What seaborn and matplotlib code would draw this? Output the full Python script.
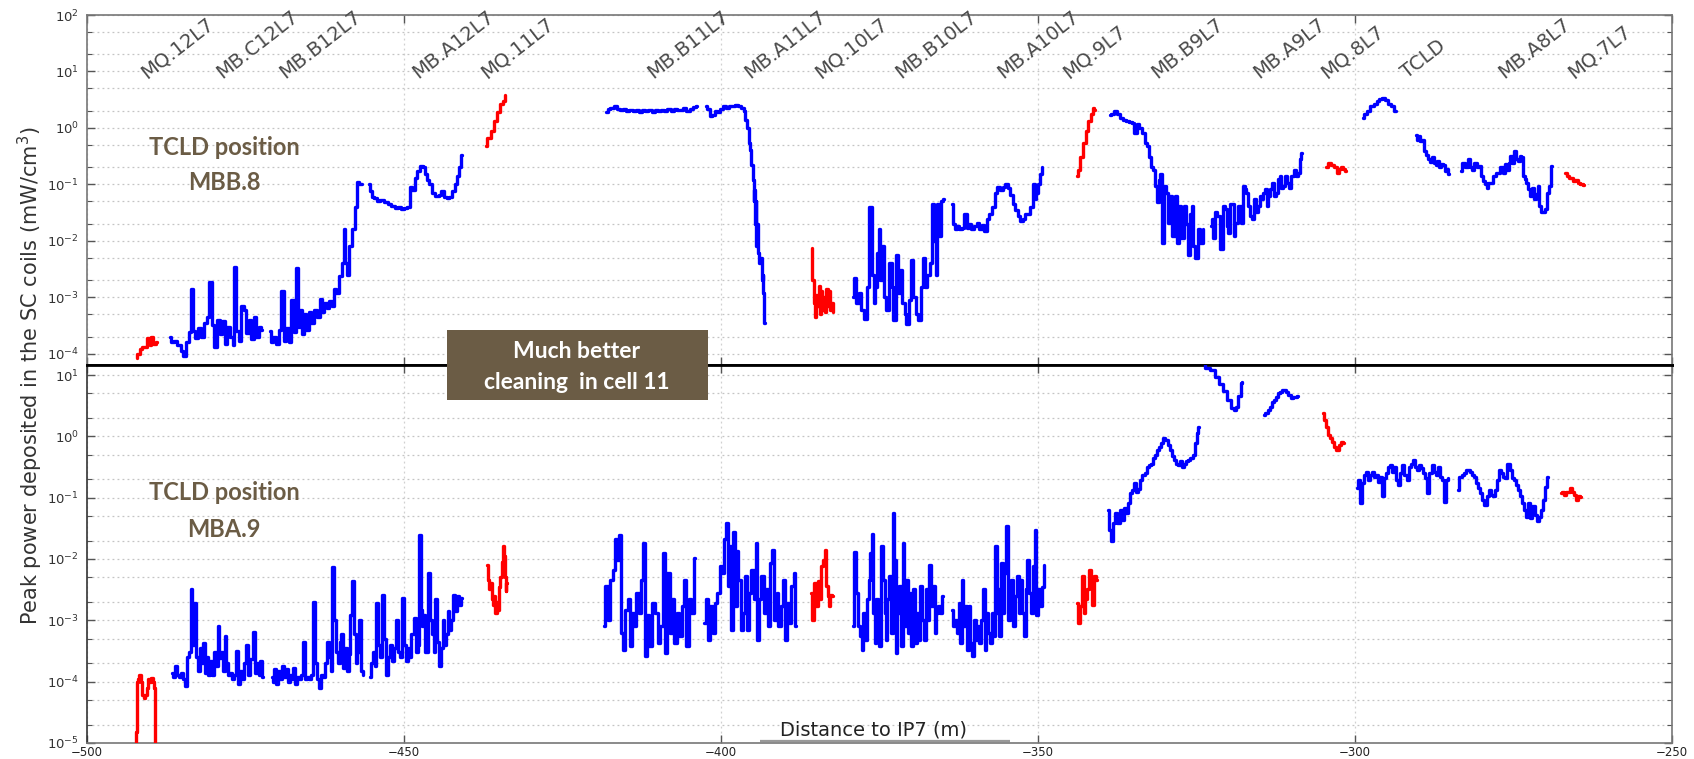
import matplotlib
matplotlib.use("Agg")
import matplotlib.pyplot as plt
from matplotlib.patches import Rectangle
from matplotlib.ticker import LogLocator, NullFormatter, MultipleLocator
import seaborn as sns

BLUE = "#0000ff"
RED = "#ff0000"
BROWN = "#6b5c45"

# ---------------- top panel: TCLD at MBB.8 ----------------
top_r1_x = [-492.2, -491.9, -491.5, -491.1, -490.7, -490.3, -490.0, -489.7, -489.4, -489.0]
top_r1_y = [8.5e-5, 1.0e-4, 1.2e-4, 1.3e-4, 1.3e-4, 1.9e-4, 1.4e-4, 2.0e-4, 1.5e-4, 1.6e-4]

top_b1_x = [-486.9, -486.5, -486.0, -485.5, -485.0, -484.6, -484.2, -483.8, -483.4, -483.1,
            -482.7, -482.3, -481.8, -481.3, -480.9, -480.5, -480.1, -479.7, -479.3, -478.9,
            -478.5, -478.1, -477.7, -477.2, -476.9, -476.6, -476.3, -475.9, -475.5, -475.1,
            -474.7, -474.3, -473.9, -473.5, -473.1, -472.7, -472.4]
top_b1_y = [2.0e-4, 1.6e-4, 1.7e-4, 1.4e-4, 1.1e-4, 9e-5, 1.6e-4, 2.4e-4, 1.4e-3, 2.5e-4,
            1.9e-4, 2.8e-4, 2.0e-4, 3.5e-4, 4.5e-4, 1.9e-3, 3.2e-4, 1.3e-4, 4.0e-4, 2.2e-4,
            3.8e-4, 1.5e-4, 3.0e-4, 2.0e-4, 1.4e-4, 3.4e-3, 2.5e-4, 1.7e-4, 7.0e-4, 6.0e-4,
            2.3e-4, 4.0e-4, 1.8e-4, 4.5e-4, 2.0e-4, 3.0e-4, 2.6e-4]

top_b2_x = [-471.2, -470.8, -470.4, -470.0, -469.6, -469.1, -468.8, -468.4, -468.0, -467.6,
            -467.2, -466.8, -466.5, -466.2, -465.9, -465.6, -465.2, -464.8, -464.4, -463.9,
            -463.5, -463.1, -462.7, -462.4, -462.0, -461.6, -461.2, -460.9, -460.5, -460.0,
            -459.7, -459.4, -459.1, -458.9, -458.5, -458.0, -457.6, -457.3, -456.9, -456.6]
top_b2_y = [2.5e-4, 1.6e-4, 2.0e-4, 1.5e-4, 2.6e-4, 1.3e-3, 1.7e-4, 2.8e-4, 1.6e-4, 9e-4,
            2.4e-4, 3.3e-3, 3.0e-4, 6.0e-4, 2.2e-4, 5.0e-4, 2.6e-4, 5.5e-4, 3.5e-4, 6.0e-4,
            4.5e-4, 9.3e-4, 5.5e-4, 8.0e-4, 6.5e-4, 8.5e-4, 7.0e-4, 1.4e-3, 1.2e-3, 2.4e-3,
            4.0e-3, 1.6e-2, 4.0e-3, 2.5e-3, 8.0e-3, 1.6e-2, 4.0e-2, 1.1e-1, 1.0e-1, 1.0e-1]

top_b3_x = [-455.5, -455.2, -454.9, -454.5, -454.1, -453.5, -452.9, -452.3, -451.8, -451.2,
            -450.7, -450.2, -449.8, -449.3, -448.9, -448.5, -448.1, -447.7, -447.3, -446.8,
            -446.5, -446.2, -445.8, -445.3, -444.8, -444.3, -443.9, -443.5, -443.1, -442.6,
            -442.2, -441.8, -441.5, -441.2, -440.8]
top_b3_y = [0.10, 0.075, 0.06, 0.058, 0.05, 0.052, 0.048, 0.045, 0.042, 0.038,
            0.04, 0.036, 0.038, 0.04, 0.09, 0.08, 0.13, 0.17, 0.21, 0.20,
            0.15, 0.12, 0.10, 0.07, 0.062, 0.065, 0.075, 0.06, 0.058, 0.06,
            0.075, 0.10, 0.14, 0.20, 0.33]

top_r2_x = [-437.1, -436.6, -436.1, -435.6, -435.1, -434.6, -434.3, -434.0]
top_r2_y = [0.47, 0.65, 0.9, 1.3, 1.9, 2.6, 3.0, 3.9]

top_b4_x = [-418.1, -417.7, -417.2, -416.7, -416.2, -415.7, -415.2, -414.7, -414.2, -413.7,
            -413.2, -412.7, -412.2, -411.7, -411.2, -410.7, -410.2, -409.7, -409.2, -408.7,
            -408.2, -407.7, -407.2, -406.7, -406.2, -405.7, -405.2, -404.7, -404.2, -403.8]
top_b4_y = [1.9, 2.2, 2.3, 2.4, 2.2, 2.1, 2.2, 2.0, 2.1, 2.0,
            2.1, 1.95, 2.1, 2.0, 2.05, 1.95, 2.1, 2.0, 2.1, 2.0,
            2.15, 2.0, 2.2, 2.05, 2.1, 2.25, 2.0, 2.2, 2.35, 2.4]

top_b5_x = [-402.4, -402.0, -401.6, -401.2, -400.8, -400.4, -400.0, -399.5, -399.0, -398.5,
            -398.0, -397.5, -397.0, -396.6, -396.3, -396.0, -395.7, -395.5, -395.3, -395.1,
            -394.9, -394.8, -394.7, -394.6, -394.5, -394.4, -394.3, -394.1, -393.9, -393.7,
            -393.5, -393.4, -393.3, -393.2, -393.1]
top_b5_y = [2.4, 2.2, 1.6, 1.7, 2.0, 1.9, 2.2, 2.4, 2.3, 2.45,
            2.4, 2.5, 2.4, 2.3, 2.0, 1.4, 1.0, 0.55, 0.4, 0.22,
            0.12, 0.05, 0.08, 0.02, 0.05, 0.008, 0.02, 0.006, 0.004, 0.005,
            0.002, 0.0025, 0.0012, 0.0008, 0.00035]

top_r3_x = [-385.7, -385.5, -385.3, -385.1, -384.9, -384.7, -384.5, -384.3, -384.1,
            -383.9, -383.7, -383.5, -383.3, -383.1, -382.9, -382.7, -382.5, -382.3]
top_r3_y = [7.5e-3, 2.0e-3, 8.0e-4, 4.5e-4, 1.1e-3, 7.0e-4, 1.6e-3, 5.0e-4, 1.3e-3,
            6.0e-4, 1.0e-3, 5.5e-4, 1.4e-3, 7.0e-4, 1.3e-3, 6.0e-4, 8.0e-4, 5.5e-4]

top_b6_x = [-379.2, -378.9, -378.5, -378.1, -377.7, -377.2, -376.8, -376.4, -376.1, -375.8,
            -375.6, -375.3, -375.0, -374.7, -374.4, -374.1, -373.7, -373.3, -372.9, -372.7,
            -372.2, -371.9, -371.6, -371.2, -370.9, -370.6, -370.2, -369.8, -369.5, -369.1,
            -368.7, -368.3, -368.0, -367.7, -367.3, -366.9, -366.6, -366.3, -366.0, -365.8,
            -365.5, -365.2, -364.9]
top_b6_y = [1.0e-3, 2.2e-3, 8e-4, 1.2e-3, 6e-4, 4.2e-4, 1.5e-3, 3.9e-2, 2.5e-3, 8e-4,
            1.5e-3, 6e-3, 1.6e-2, 2.0e-3, 8e-3, 1.0e-3, 6e-4, 4.0e-3, 1.5e-3, 4e-4,
            5.5e-3, 1.2e-3, 3.0e-3, 8e-4, 5e-4, 3.4e-4, 9e-4, 4.5e-3, 1.0e-3, 5e-4,
            4e-4, 1.5e-3, 5.0e-3, 1.5e-3, 2.5e-3, 4.0e-3, 4.5e-2, 1.0e-2, 2.5e-3, 4.5e-2,
            1.2e-2, 5.0e-2, 5.5e-2]

top_b7_x = [-363.5, -363.3, -363.0, -362.6, -362.2, -361.8, -361.4, -361.1, -360.7, -360.3,
            -359.9, -359.5, -359.1, -358.7, -358.3, -357.9, -357.5, -357.0, -356.6, -356.2,
            -355.8, -355.4, -355.0, -354.6, -354.2, -353.8, -353.4, -353.0, -352.6, -352.2,
            -351.8, -351.4, -351.0, -350.7, -350.4, -350.1, -349.8, -349.5, -349.3]
top_b7_y = [0.045, 0.02, 0.016, 0.018, 0.016, 0.017, 0.03, 0.017, 0.02, 0.016,
            0.018, 0.021, 0.016, 0.019, 0.015, 0.024, 0.03, 0.04, 0.07, 0.09,
            0.08, 0.09, 0.1, 0.085, 0.065, 0.045, 0.035, 0.028, 0.022, 0.024,
            0.03, 0.03, 0.04, 0.1, 0.055, 0.07, 0.1, 0.15, 0.2]

top_r4_x = [-343.9, -343.5, -343.1, -342.7, -342.3, -341.9, -341.5, -341.2, -341.0]
top_r4_y = [0.14, 0.18, 0.3, 0.55, 0.9, 1.3, 1.8, 2.3, 2.1]

top_b8_x = [-338.7, -338.2, -337.7, -337.3, -336.8, -336.3, -335.8, -335.4, -335.0, -334.6,
            -334.2, -333.8, -333.4, -333.0, -332.6, -332.3, -332.0, -331.7, -331.4, -331.1,
            -330.8, -330.6, -330.3, -330.0, -329.7, -329.4, -329.1, -328.6, -328.2, -327.9,
            -327.7, -327.3, -326.8, -326.5, -326.2, -325.9, -325.6, -325.4, -325.0, -324.6,
            -324.2, -323.9]
top_b8_y = [1.7, 1.8, 1.96, 1.8, 1.5, 1.4, 1.3, 1.25, 1.2, 0.82,
            1.15, 1.0, 0.8, 0.55, 0.47, 0.3, 0.2, 0.18, 0.093, 0.048,
            0.12, 0.15, 0.0093, 0.093, 0.071, 0.021, 0.062, 0.012, 0.062, 0.0093,
            0.041, 0.011, 0.041, 0.02, 0.0055, 0.03, 0.041, 0.0081, 0.005, 0.016,
            0.0093, 0.016]

top_b9_x = [-322.7, -322.5, -322.2, -321.9, -321.6, -321.0, -320.7, -320.4, -320.1, -319.9,
            -319.6, -319.3, -319.0, -318.7, -318.1, -317.8, -317.5, -317.3, -317.0, -316.7,
            -316.4, -316.1, -315.8, -315.5, -315.2, -314.9, -314.7, -314.4, -314.1, -313.8,
            -313.5, -313.2, -312.9, -312.6, -312.3, -312.0, -311.8, -311.5, -311.2, -310.9,
            -310.6, -310.3, -310.0, -309.7, -309.5, -309.2, -308.9, -308.6, -308.3]
top_b9_y = [0.018, 0.024, 0.011, 0.032, 0.028, 0.0071, 0.041, 0.036, 0.018, 0.014,
            0.044, 0.044, 0.012, 0.021, 0.041, 0.021, 0.093, 0.082, 0.071, 0.041,
            0.028, 0.024, 0.054, 0.032, 0.041, 0.062, 0.054, 0.071, 0.082, 0.041,
            0.062, 0.082, 0.107, 0.062, 0.071, 0.123, 0.14, 0.087, 0.093, 0.14,
            0.107, 0.087, 0.14, 0.14, 0.18, 0.14, 0.16, 0.28, 0.36]

top_r5_x = [-304.5, -304.0, -303.5, -303.0, -302.6, -302.3, -302.0, -301.7, -301.4]
top_r5_y = [0.2, 0.24, 0.22, 0.2, 0.16, 0.19, 0.2, 0.19, 0.17]

top_b10_x = [-298.8, -298.3, -297.9, -297.3, -296.8, -296.4, -296.0, -295.6, -295.0, -294.5,
             -294.1, -293.6]
top_b10_y = [1.5, 1.8, 1.96, 2.4, 2.7, 2.96, 3.2, 3.4, 3.16, 2.7, 2.4, 1.96]

top_b11_x = [-290.3, -290.0, -289.8, -289.6, -289.3, -288.9, -288.6, -288.3, -288.0, -287.7,
             -287.4, -287.2, -286.9, -286.6, -286.3, -286.0, -285.7, -285.5, -285.2]
top_b11_y = [0.76, 0.6, 0.71, 0.58, 0.62, 0.39, 0.33, 0.28, 0.25, 0.30,
             0.24, 0.22, 0.26, 0.2, 0.23, 0.22, 0.17, 0.19, 0.15]

top_b12_x = [-283.3, -282.9, -282.5, -282.0, -281.7, -281.4, -280.9, -280.6, -280.3, -280.0,
             -279.7, -279.4, -279.1, -278.8, -278.5, -278.0, -277.4, -276.8, -276.5, -276.2,
             -275.9, -275.6, -275.4, -275.1, -274.8, -274.5, -274.2, -273.9, -273.6, -273.4,
             -273.1, -272.8, -272.5, -272.2, -271.9, -271.6, -271.3, -271.0, -270.8, -270.5,
             -270.3, -269.9, -269.6, -269.3, -269.0]
top_b12_y = [0.17, 0.24, 0.2, 0.28, 0.2, 0.18, 0.24, 0.2, 0.21, 0.14,
             0.115, 0.1, 0.087, 0.107, 0.107, 0.14, 0.16, 0.2, 0.16, 0.225,
             0.18, 0.24, 0.32, 0.24, 0.39, 0.28, 0.26, 0.32, 0.3, 0.14,
             0.123, 0.107, 0.082, 0.062, 0.087, 0.054, 0.067, 0.093, 0.041, 0.032,
             0.032, 0.036, 0.071, 0.093, 0.21]

top_r6_x = [-266.8, -266.4, -266.1, -265.8, -265.5, -265.0, -264.7, -264.4, -263.8]
top_r6_y = [0.156, 0.14, 0.13, 0.13, 0.115, 0.12, 0.105, 0.1, 0.096]

# ---------------- bottom panel: TCLD at MBA.9 ----------------
bot_r1_x = [-492.3, -492.2, -492.1, -491.9, -491.6, -491.4, -491.2, -490.9, -490.7, -490.5,
            -490.3, -490.0, -489.7, -489.5, -489.3, -489.2]
bot_r1_y = [5e-6, 1.5e-5, 1.0e-4, 1.1e-4, 1.3e-4, 1.0e-4, 6e-5, 5.5e-5, 6e-5, 8e-5,
            1.1e-4, 1.0e-4, 1.15e-4, 1.0e-4, 8e-5, 5e-6]

bot_b1_x = [-486.6, -486.3, -486.0, -485.7, -485.3, -485.0, -484.7, -484.4, -484.1, -483.8,
            -483.5, -483.3, -483.0, -482.7, -482.4, -482.1, -481.8, -481.6, -481.3, -481.0,
            -480.7, -480.4, -480.1, -479.8, -479.5, -479.3, -479.0, -478.7, -478.4, -478.2,
            -477.9, -477.6, -477.3, -477.0, -476.6, -476.3, -476.0, -475.7, -475.4, -475.1,
            -474.7, -474.4, -474.1, -473.7, -473.4, -473.1, -472.8, -472.5, -472.3]
bot_b1_y = [1.4e-4, 1.2e-4, 1.8e-4, 1.3e-4, 1.2e-4, 1.4e-4, 1.1e-4, 8.5e-5, 2.5e-4, 3.0e-4,
            3.2e-3, 4e-4, 1.9e-3, 2.5e-4, 1.5e-4, 3.5e-4, 2.0e-4, 4.2e-4, 1.4e-4, 2.5e-4,
            1.3e-4, 2.2e-4, 1.3e-4, 3.0e-4, 1.8e-4, 8e-4, 2.4e-4, 3.0e-4, 1.5e-4, 5.5e-4,
            2.0e-4, 1.3e-4, 1.4e-4, 1.1e-4, 1.3e-4, 3.2e-4, 9e-5, 1.5e-4, 1.1e-4, 2.0e-4,
            4.0e-4, 1.3e-4, 2.3e-4, 6.5e-4, 1.4e-4, 2.0e-4, 1.3e-4, 2.2e-4, 1.2e-4]

bot_b2_x = [-470.9, -470.6, -470.3, -470.0, -469.7, -469.4, -469.1, -468.8, -468.5, -468.2,
            -467.9, -467.6, -467.3, -467.0, -466.7, -466.4, -466.1, -465.8, -465.5, -465.2,
            -464.9, -464.6, -464.2, -463.9, -463.6, -463.3, -463.0, -462.7, -462.3, -462.0,
            -461.7, -461.4, -461.2, -460.9, -460.6, -460.3, -460.0, -459.8, -459.5, -459.2,
            -458.9, -458.6, -458.3, -458.1, -457.8, -457.5, -457.2, -457.0, -456.7, -456.4]
bot_b2_y = [1.2e-4, 1.0e-4, 1.6e-4, 9e-5, 1.5e-4, 1.1e-4, 1.8e-4, 1.2e-4, 1.6e-4, 1.0e-4,
            1.3e-4, 1.1e-4, 1.7e-4, 9e-5, 1.2e-4, 1.1e-4, 1.3e-4, 4.5e-4, 1.1e-4, 1.2e-4,
            1.1e-4, 1.3e-4, 2.0e-3, 2.0e-4, 1.1e-4, 8e-5, 1.3e-4, 1.2e-4, 2.0e-4, 4.5e-4,
            2.5e-4, 1.5e-4, 7.5e-3, 1.0e-3, 3.0e-4, 2.0e-4, 4.5e-4, 6.0e-4, 1.7e-4, 3.5e-4,
            1.5e-4, 2.8e-4, 1.2e-3, 4.3e-3, 6e-4, 2.0e-4, 3.0e-4, 1.0e-3, 1.5e-4, 1.3e-4]

bot_b3_x = [-455.4, -455.1, -454.8, -454.5, -454.2, -453.9, -453.6, -453.3, -453.0, -452.7,
            -452.4, -452.1, -451.8, -451.5, -451.1, -450.8, -450.5, -450.2, -449.9, -449.6,
            -449.3, -449.0, -448.7, -448.3, -448.0, -447.7, -447.5, -447.3, -447.1, -446.8,
            -446.5, -446.1, -445.8, -445.5, -445.2, -444.9, -444.6, -444.3, -444.0, -443.8,
            -443.5, -443.2, -443.0, -442.7, -442.4, -442.1, -441.8, -441.5, -441.2, -440.8]
bot_b3_y = [1.2e-4, 2.0e-4, 3.0e-4, 1.8e-4, 1.9e-3, 4e-4, 2.5e-4, 2.6e-3, 5e-4, 1.3e-4,
            2.5e-4, 4e-4, 2.2e-4, 3.5e-4, 1.0e-3, 3.0e-4, 2.5e-4, 2.3e-3, 4e-4, 2.2e-4,
            3.5e-4, 2.5e-4, 6e-4, 1.1e-3, 3.0e-4, 4e-4, 2.5e-2, 1.5e-3, 8e-4, 1.2e-3,
            3.0e-4, 5.9e-3, 1.0e-3, 6e-4, 3.0e-4, 2.2e-3, 4.5e-4, 1.8e-4, 3.5e-4, 1.0e-3,
            4.0e-4, 6e-4, 1.4e-3, 7e-4, 1.0e-3, 2.6e-3, 1.4e-3, 2.5e-3, 1.8e-3, 2.3e-3]

bot_r2_x = [-436.9, -436.7, -436.5, -436.3, -436.1, -435.9, -435.7, -435.5, -435.3, -435.1,
            -434.9, -434.7, -434.5, -434.4, -434.3, -434.2, -434.0, -433.9, -433.8]
bot_r2_y = [8e-3, 4.5e-3, 3.2e-3, 4e-3, 2.2e-3, 1.8e-3, 2.5e-3, 1.3e-3, 2.0e-3, 1.5e-3,
            3.5e-3, 5e-3, 9e-3, 1.2e-2, 1.6e-2, 1.1e-2, 5e-3, 3e-3, 4e-3]

bot_b4_x = [-418.4, -418.1, -417.7, -417.3, -416.9, -416.6, -416.2, -415.9, -415.6, -415.3,
            -414.9, -414.5, -414.2, -413.9, -413.5, -413.2, -412.8, -412.4, -412.1, -411.8,
            -411.5, -411.1, -410.7, -410.2, -409.8, -409.4, -409.0, -408.7, -408.3, -407.9,
            -407.5, -407.2, -406.8, -406.4, -406.0, -405.6, -405.3, -404.9, -404.5, -404.1]
bot_b4_y = [8e-4, 3.6e-3, 1.0e-3, 4.6e-3, 6.7e-3, 2.1e-2, 9.7e-3, 2.5e-2, 6.2e-4, 3.3e-4,
            1.5e-3, 2.2e-3, 3.8e-4, 1.3e-3, 8e-4, 2.8e-3, 1.3e-3, 4.6e-3, 1.8e-2, 2.6e-4,
            1.2e-3, 3.8e-4, 1.9e-3, 1.3e-3, 4.3e-4, 8e-4, 1.25e-2, 2.9e-4, 5.9e-3, 6.2e-4,
            2.2e-3, 4.3e-4, 1.3e-3, 5.5e-4, 1.7e-3, 4.6e-3, 3.8e-4, 2.2e-3, 1.3e-3, 1.03e-2]

bot_b5_x = [-402.65, -402.25, -401.9, -401.5, -401.1, -400.8, -400.4, -400.0, -399.7, -399.4,
            -399.1, -398.8, -398.5, -398.25, -397.97, -397.7, -397.4, -397.1, -396.7, -396.4,
            -396.06, -395.7, -395.4, -395.05, -394.7, -394.4, -394.14, -393.8, -393.5, -393.1,
            -392.8, -392.45, -392.1, -391.8, -391.4, -391.1, -390.8, -390.4, -390.1, -389.75,
            -389.4, -389.1, -388.7, -388.4, -388.2]
bot_b5_y = [9e-4, 2.2e-3, 4.8e-4, 1.7e-3, 6.2e-4, 1.9e-3, 2.8e-3, 7.6e-3, 5.9e-3, 2.1e-2,
            3.8e-2, 3.6e-3, 1.6e-2, 7e-4, 2.8e-2, 1.7e-3, 1.33e-2, 4.6e-3, 7e-4, 1.3e-3,
            5.2e-3, 7e-4, 2.8e-3, 6.7e-3, 2.2e-3, 1.8e-2, 4.8e-4, 2.2e-3, 5.2e-3, 1.3e-3,
            3.2e-3, 8e-4, 8.6e-3, 1.4e-2, 1.0e-3, 2.8e-3, 8e-4, 1.7e-3, 4.6e-3, 4.8e-4,
            1.9e-3, 9e-4, 3.6e-3, 5.9e-3, 8e-4]

bot_r3_x = [-385.75, -385.5, -385.2, -384.9, -384.6, -384.3, -384.1, -383.8, -383.5, -383.3,
            -383.1, -382.9, -382.7, -382.4]
bot_r3_y = [2.8e-3, 1.0e-3, 4.0e-3, 1.7e-3, 4.3e-3, 2.2e-3, 7.6e-3, 9.7e-3, 1.4e-2, 3.6e-3,
            2.5e-3, 1.7e-3, 2.6e-3, 2.5e-3]

bot_b6_x = [-379.17, -378.94, -378.60, -378.27, -377.98, -377.70, -377.42, -377.14, -376.86, -376.58,
            -376.35, -376.13, -375.90, -375.68, -375.45, -375.17, -374.89, -374.61, -374.32, -374.10,
            -373.87, -373.65, -373.37, -373.09, -372.80, -372.58, -372.35, -372.07, -371.79, -371.51,
            -371.23, -370.95, -370.66, -370.38, -370.10, -369.82, -369.54, -369.26, -368.98, -368.69,
            -368.41, -368.13, -367.85, -367.57, -367.29, -367.00, -366.72, -366.44, -366.16, -365.88,
            -365.60, -365.32, -364.92]
bot_b6_y = [8e-4, 1.3e-2, 2.8e-3, 8e-4, 5.5e-4, 3.3e-4, 1.3e-3, 4.8e-4, 2.2e-3, 4.6e-3,
            1.25e-2, 2.6e-2, 1.3e-3, 4.3e-4, 2.2e-3, 8e-4, 3.8e-4, 1.6e-2, 4.6e-3, 1.3e-3,
            4.8e-4, 2.2e-3, 5.2e-3, 6.2e-4, 5.6e-2, 9.7e-3, 2.9e-4, 1.3e-3, 3.6e-3, 3.8e-4,
            1.8e-2, 8e-4, 4.6e-3, 6.2e-4, 2.8e-3, 3.8e-4, 3.2e-3, 4.3e-4, 1.3e-3, 4.8e-4,
            3.6e-3, 1.0e-3, 4.8e-4, 3.2e-3, 1.0e-3, 8.1e-3, 1.7e-3, 3.6e-3, 6.2e-4, 1.3e-3,
            1.7e-3, 1.3e-3, 2.5e-3]

bot_b7_x = [-363.51, -363.23, -362.95, -362.67, -362.39, -362.11, -361.94, -361.66, -361.37, -361.09,
            -360.81, -360.53, -360.25, -359.97, -359.68, -359.40, -359.12, -358.84, -358.56, -358.28,
            -358.00, -357.71, -357.43, -357.15, -356.87, -356.64, -356.42, -356.19, -355.97, -355.74,
            -355.46, -355.18, -354.90, -354.62, -354.34, -354.05, -353.77, -353.49, -353.21, -352.93,
            -352.65, -352.36, -352.08, -351.80, -351.52, -351.24, -350.96, -350.68, -350.39, -350.11,
            -349.83, -349.55, -349.27, -348.99]
bot_b7_y = [1.5e-3, 8e-4, 1.0e-3, 6.2e-4, 1.9e-3, 4.3e-4, 4.6e-3, 8e-4, 1.7e-3, 3.3e-4,
            1.7e-3, 4.3e-4, 2.6e-4, 1.0e-3, 4.8e-4, 8e-4, 4.3e-4, 1.0e-3, 3.2e-3, 3.3e-4,
            1.3e-3, 6.2e-4, 4.3e-4, 1.3e-3, 5.5e-4, 1.6e-2, 1.3e-3, 3.2e-3, 5.5e-4, 8.5e-3,
            1.3e-3, 5.9e-3, 3.4e-2, 1.0e-3, 2.2e-3, 4.6e-3, 8e-4, 2.5e-3, 5.2e-3, 1.3e-3,
            4.6e-3, 1.3e-3, 5.5e-4, 3.2e-3, 9.8e-3, 2.8e-3, 1.3e-3, 7.6e-3, 3.0e-2, 1.2e-3,
            3.2e-3, 1.7e-3, 3.5e-3, 8e-3]

bot_r4_x = [-343.81, -343.53, -343.24, -342.96, -342.68, -342.40, -342.12, -341.84, -341.55,
            -341.27, -340.99, -340.71]
bot_r4_y = [1.9e-3, 9e-4, 1.7e-3, 5.2e-3, 1.3e-3, 2.2e-3, 3.2e-3, 6.6e-3, 4.6e-3,
            1.8e-3, 5.2e-3, 4.6e-3]

bot_b8_x = [-338.95, -338.62, -338.29, -337.96, -337.63, -337.30, -336.97, -336.64, -336.32, -335.99,
            -335.66, -335.33, -335.00, -334.67, -334.34, -334.01, -333.68, -333.36, -333.03, -332.70,
            -332.37, -332.04, -331.71, -331.38, -331.05, -330.72, -330.39, -330.07, -329.74, -329.41,
            -329.08, -328.75, -328.42, -328.09, -327.76, -327.43, -327.11, -326.78, -326.45, -326.12,
            -325.79, -325.46, -325.13, -324.80, -324.61]
bot_b8_y = [0.063, 0.030, 0.0193, 0.038, 0.056, 0.038, 0.063, 0.044, 0.068, 0.056,
            0.081, 0.118, 0.134, 0.172, 0.126, 0.14, 0.195, 0.235, 0.25, 0.32,
            0.34, 0.36, 0.44, 0.50, 0.60, 0.68, 0.77, 0.93, 0.87, 0.72,
            0.60, 0.47, 0.41, 0.36, 0.34, 0.39, 0.32, 0.36, 0.39, 0.41,
            0.44, 0.50, 0.77, 1.12, 1.44]

bot_b9_x = [-324.0, -323.2, -322.5, -321.8, -321.2, -320.5, -319.9, -319.2, -318.9, -318.6,
            -318.2, -317.9, -317.8]
bot_b9_y = [20.0, 13.0, 12.0, 9.4, 7.2, 5.4, 3.9, 2.9, 2.7, 3.0, 4.5, 7.3, 7.8]

bot_b10_x = [-314.41, -313.95, -313.62, -313.29, -312.96, -312.63, -312.30, -311.97, -311.64,
             -311.32, -310.99, -310.66, -310.33, -310.00, -309.67, -309.34, -309.01]
bot_b10_y = [2.23, 2.38, 2.69, 3.05, 3.68, 3.92, 4.44, 5.0, 5.36, 5.7, 5.7, 5.36, 4.72, 4.17,
             4.3, 4.44, 4.55]

bot_r5_x = [-305.07, -304.74, -304.41, -304.08, -303.75, -303.42, -303.09, -302.76, -302.43,
            -302.11, -301.78]
bot_r5_y = [2.38, 1.85, 1.44, 1.05, 0.93, 0.82, 0.68, 0.59, 0.72, 0.82, 0.77]

bot_b11_x = [-299.61, -299.34, -299.08, -298.82, -298.49, -298.16, -297.83, -297.50, -297.17, -296.84,
             -296.51, -296.18, -295.85, -295.66, -295.33, -295.00, -294.67, -294.34, -294.01, -293.68,
             -293.36, -293.03, -292.70, -292.37, -292.04, -291.71, -291.38, -291.05, -290.72, -290.39,
             -290.07, -289.74, -289.41, -289.08, -288.75, -288.42, -288.09, -287.76, -287.43, -287.11,
             -286.78, -286.45, -286.12, -285.79, -285.46, -285.33]
bot_b11_y = [0.143, 0.195, 0.081, 0.172, 0.235, 0.267, 0.195, 0.235, 0.267, 0.22,
             0.235, 0.183, 0.22, 0.105, 0.206, 0.25, 0.32, 0.34, 0.267, 0.32,
             0.195, 0.162, 0.25, 0.34, 0.235, 0.195, 0.32, 0.36, 0.41, 0.32,
             0.284, 0.34, 0.30, 0.25, 0.206, 0.118, 0.25, 0.34, 0.267, 0.235,
             0.32, 0.22, 0.195, 0.086, 0.195, 0.206]

bot_b12_x = [-283.82, -283.36, -283.03, -282.70, -282.37, -282.04, -281.71, -281.38, -281.05, -280.72,
             -280.39, -280.07, -279.74, -279.41, -279.08, -278.75, -278.42, -278.09, -277.76, -277.43,
             -277.11, -276.78, -276.45, -276.12, -275.79, -275.46, -275.13, -274.80, -274.47, -274.14,
             -273.82, -273.49, -273.16, -272.83, -272.50, -272.17, -271.84, -271.51, -271.18, -270.86,
             -270.53, -270.20, -269.87, -269.54]
bot_b12_y = [0.134, 0.22, 0.235, 0.25, 0.284, 0.284, 0.267, 0.235, 0.22, 0.172,
             0.143, 0.118, 0.092, 0.076, 0.105, 0.134, 0.111, 0.105, 0.134, 0.195,
             0.284, 0.25, 0.22, 0.206, 0.36, 0.284, 0.206, 0.195, 0.162, 0.134,
             0.105, 0.081, 0.063, 0.049, 0.081, 0.046, 0.072, 0.052, 0.041, 0.049,
             0.063, 0.092, 0.152, 0.22]

bot_r6_x = [-267.57, -267.24, -266.91, -266.58, -266.25, -265.92, -265.59, -265.26, -264.93,
            -264.61, -264.28]
bot_r6_y = [0.118, 0.126, 0.111, 0.126, 0.126, 0.143, 0.126, 0.111, 0.092, 0.105, 0.102]

# magnet labels along the top of the upper panel
magnet_names = ["MQ.12L7", "MB.C12L7", "MB.B12L7", "MB.A12L7", "MQ.11L7", "MB.B11L7",
                "MB.A11L7", "MQ.10L7", "MB.B10L7", "MB.A10L7", "MQ.9L7", "MB.B9L7",
                "MB.A9L7", "MQ.8L7", "TCLD", "MB.A8L7", "MQ.7L7"]
magnet_pos = [-492.0, -480.2, -470.2, -449.3, -438.4, -412.2, -396.8, -385.8, -373.1,
              -357.0, -346.6, -332.7, -316.6, -306.0, -293.3, -278.0, -267.0]

top_segments = [
    (top_r1_x, top_r1_y, RED), (top_b1_x, top_b1_y, BLUE), (top_b2_x, top_b2_y, BLUE),
    (top_b3_x, top_b3_y, BLUE), (top_r2_x, top_r2_y, RED), (top_b4_x, top_b4_y, BLUE),
    (top_b5_x, top_b5_y, BLUE), (top_r3_x, top_r3_y, RED), (top_b6_x, top_b6_y, BLUE),
    (top_b7_x, top_b7_y, BLUE), (top_r4_x, top_r4_y, RED), (top_b8_x, top_b8_y, BLUE),
    (top_b9_x, top_b9_y, BLUE), (top_r5_x, top_r5_y, RED), (top_b10_x, top_b10_y, BLUE),
    (top_b11_x, top_b11_y, BLUE), (top_b12_x, top_b12_y, BLUE), (top_r6_x, top_r6_y, RED),
]
bot_segments = [
    (bot_r1_x, bot_r1_y, RED), (bot_b1_x, bot_b1_y, BLUE), (bot_b2_x, bot_b2_y, BLUE),
    (bot_b3_x, bot_b3_y, BLUE), (bot_r2_x, bot_r2_y, RED), (bot_b4_x, bot_b4_y, BLUE),
    (bot_b5_x, bot_b5_y, BLUE), (bot_r3_x, bot_r3_y, RED), (bot_b6_x, bot_b6_y, BLUE),
    (bot_b7_x, bot_b7_y, BLUE), (bot_r4_x, bot_r4_y, RED), (bot_b8_x, bot_b8_y, BLUE),
    (bot_b9_x, bot_b9_y, BLUE), (bot_b10_x, bot_b10_y, BLUE), (bot_r5_x, bot_r5_y, RED),
    (bot_b11_x, bot_b11_y, BLUE), (bot_b12_x, bot_b12_y, BLUE), (bot_r6_x, bot_r6_y, RED),
]

sns.set_style("white")
plt.rcParams["font.family"] = ["DejaVu Sans"]

fig = plt.figure(figsize=(16.94, 7.59), dpi=100)
ax1 = fig.add_axes([0.0514, 0.5191, 0.9356, 0.4611])
ax2 = fig.add_axes([0.0514, 0.0211, 0.9356, 0.4980])


def draw_panel(ax, segments, ylim):
    for xs, ys, col in segments:
        sns.lineplot(x=xs, y=ys, ax=ax, color=col, lw=2.4, drawstyle="steps-mid",
                     estimator=None, sort=False, legend=False, zorder=3)
    ax.set_yscale("log")
    ax.set_xlim(-500, -250)
    ax.set_ylim(*ylim)
    ax.yaxis.set_major_locator(LogLocator(base=10, numticks=20))
    ax.yaxis.set_minor_locator(LogLocator(base=10, subs=(2.0, 5.0), numticks=20))
    ax.yaxis.set_minor_formatter(NullFormatter())
    ax.xaxis.set_major_locator(MultipleLocator(50))
    ax.grid(which="both", axis="y", ls=(0, (1.5, 2.5)), color="#c4c4c4", lw=0.9)
    ax.grid(which="major", axis="x", ls=(0, (1.5, 2.5)), color="#d0d0d0", lw=0.9)
    ax.tick_params(which="both", direction="in", left=True, right=True, top=True,
                   bottom=True, colors="#555555", labelcolor="#333333")
    ax.tick_params(which="major", length=6, width=1.0, labelsize=9.5, pad=6)
    ax.tick_params(which="minor", length=3.5, width=0.8)
    ax.set_xlabel("")
    ax.set_ylabel("")
    for side in ("left", "right", "top", "bottom"):
        ax.spines[side].set_color("#777777")
        ax.spines[side].set_linewidth(1.2)


draw_panel(ax1, top_segments, (10 ** -4.2, 1e2))
draw_panel(ax2, bot_segments, (1e-5, 10 ** 1.163))

ax1.tick_params(axis="x", labelbottom=False)
ax1.spines["bottom"].set_color("black")
ax1.spines["bottom"].set_linewidth(2.0)
ax2.spines["top"].set_color("black")
ax2.spines["top"].set_linewidth(2.0)
ax2.spines["left"].set_color("#333333")
ax2.tick_params(axis="x", labelsize=8.5, pad=2, labelcolor="#222222")

for name, xpos in zip(magnet_names, magnet_pos):
    ax1.text(xpos, 6.5, name, rotation=38, ha="left", va="bottom",
             fontsize=14, color="#4a4a4a", zorder=4)

lato = ["Lato", "DejaVu Sans"]
ax1.text(-478.4, 0.45, "TCLD position", ha="center", va="center", fontsize=17,
         fontweight="bold", color=BROWN, family=lato)
ax1.text(-478.4, 0.109, "MBB.8", ha="center", va="center", fontsize=17,
         fontweight="bold", color=BROWN, family=lato)
ax2.text(-478.4, 0.12, "TCLD position", ha="center", va="center", fontsize=17,
         fontweight="bold", color=BROWN, family=lato)
ax2.text(-478.4, 0.030, "MBA.9", ha="center", va="center", fontsize=17,
         fontweight="bold", color=BROWN, family=lato)

# x axis title sits inside the lower panel, underlined
ax2.text(-375.9, 1.6e-5, "Distance to IP7 (m)", ha="center", va="center",
         fontsize=14, color="#222222")
ax2.hlines(1.08e-5, -393.9, -354.4, color="#999999", lw=1.6)

fig.text(0.0177, 0.505, "Peak power deposited in the SC coils (mW/cm$^3$)",
         rotation=90, ha="center", va="center", fontsize=15, color="#333333")

# annotation box spanning the two panels
fig.add_artist(Rectangle((447 / 1694, 1 - 400 / 759), 261 / 1694, 70 / 759,
                         transform=fig.transFigure, facecolor=BROWN,
                         edgecolor="none", zorder=10))
fig.text(577 / 1694, 1 - 351 / 759, "Much better", ha="center", va="center",
         fontsize=16.5, fontweight="bold", color="white", family=lato, zorder=11)
fig.text(577 / 1694, 1 - 382 / 759, "cleaning  in cell 11", ha="center", va="center",
         fontsize=16.5, fontweight="bold", color="white", family=lato, zorder=11)

fig.savefig("out.png", dpi=100)
